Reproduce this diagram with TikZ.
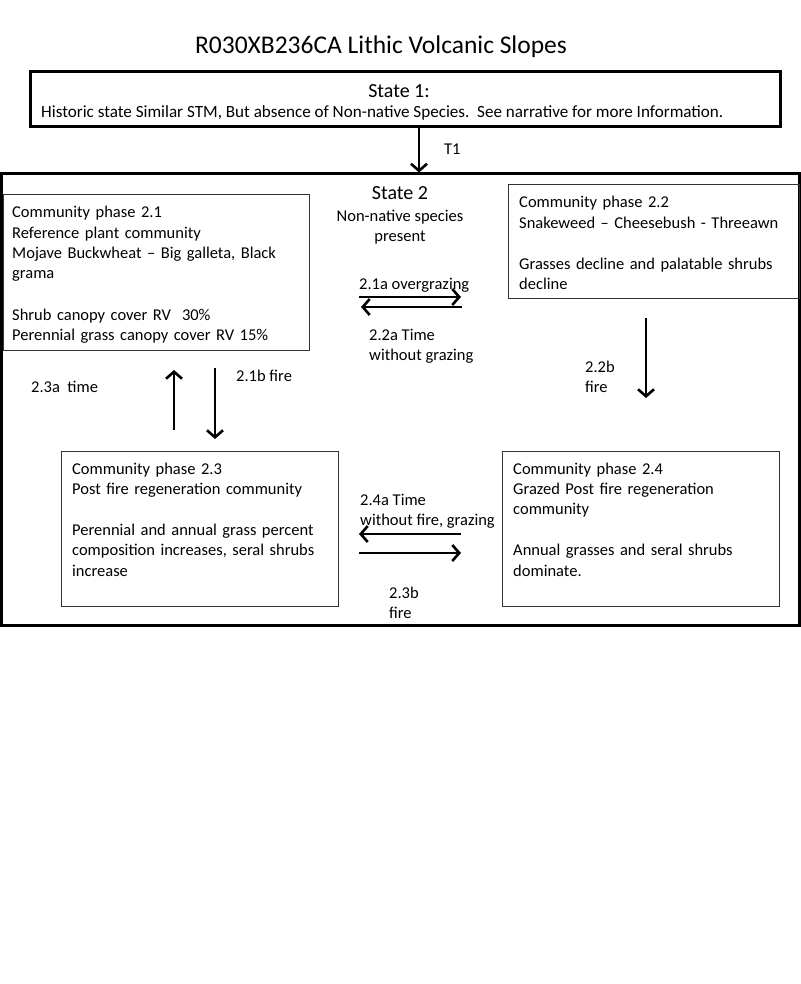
\documentclass[tikz,border=0pt]{standalone}
\usepackage{fontspec}
\setmainfont{Carlito}
\usetikzlibrary{arrows.meta}

\begin{document}
\begin{tikzpicture}[x=1pt, y=-1pt]
	\tikzstyle{statebox} = [rectangle, draw=black, line width=3pt, inner sep=0pt]
	\tikzstyle{phase}    = [rectangle, draw=black!80, line width=1.1pt, inner sep=0pt, anchor=north west]
	\tikzstyle{body}     = [inner sep=0pt, anchor=base west, text width=300pt, execute at begin node=\raggedright,
	                        font=\fontsize{16.5}{20.3}\selectfont]
	\tikzstyle{lbl}      = [inner sep=0pt, anchor=base west, align=left, font=\fontsize{16.5}{20}\selectfont]
	\tikzstyle{arr}      = [line width=1.1pt, -{Straight Barb[length=7pt, width=16pt, line width=2.6pt 0]}]

	\useasboundingbox (0,0) rectangle (800,984);

%	title and the two states
	\node[inner sep=0pt, anchor=base, font=\fontsize{25.5}{30}\selectfont] (title) at (381,54) {R030XB236CA Lithic Volcanic Slopes};

	\node[statebox, minimum width=750pt, minimum height=55pt] (s1) at (405,99.5) {};
	\node[inner sep=0pt, anchor=base, font=\fontsize{20}{24}\selectfont] (s1name) at (399,98) {State 1:};
	\node[inner sep=0pt, anchor=base west, font=\fontsize{17.1}{20}\selectfont] (s1text) at (41,118)
		{Historic state Similar STM, But absence of Non-native Species.\ \ See narrative for more Information.};

	\node[statebox, minimum width=798pt, minimum height=451pt] (s2) at (400,399.5) {};
	\node[inner sep=0pt, anchor=base, font=\fontsize{20}{24}\selectfont] (s2name) at (400,200) {State 2};
	\node[inner sep=0pt, anchor=base, align=center, font=\fontsize{16.5}{20}\selectfont] (s2text) at (400,241)
		{Non-native species\\present};

%	community phases
	\node[phase, minimum width=306pt, minimum height=156pt] (p21) at (3,194) {};
	\node[phase, minimum width=291pt, minimum height=114pt] (p22) at (508,184) {};
	\node[phase, minimum width=277pt, minimum height=155pt] (p23) at (61,451) {};
	\node[phase, minimum width=277pt, minimum height=155pt] (p24) at (502,451) {};

	\node[body] (t21) at ([shift={(9,24)}]p21.north west)
		{Community phase 2.1\\Reference plant community\\Mojave Buckwheat -- Big galleta, Black\\grama\\[21pt]
		 Shrub canopy cover RV\ \ 30\%\\Perennial grass canopy cover RV 15\%};
	\node[body] (t22) at ([shift={(11,24)}]p22.north west)
		{Community phase 2.2\\Snakeweed -- Cheesebush - Threeawn\\[21pt]
		 Grasses decline and palatable shrubs\\decline};
	\node[body] (t23) at ([shift={(11,23)}]p23.north west)
		{Community phase 2.3\\Post fire regeneration community\\[21pt]
		 Perennial and annual grass percent\\composition increases, seral shrubs\\increase};
	\node[body] (t24) at ([shift={(11,23)}]p24.north west)
		{Community phase 2.4\\Grazed Post fire regeneration\\community\\[21pt]
		 Annual grasses and seral shrubs\\dominate.};

%	transition labels
	\foreach \name/\x/\y/\text in {l21a/359/289/{2.1a overgrazing}, l22a/369/360/{2.2a Time\\without grazing},
			l22b/585/392/{2.2b\\fire}, l23a/31/392/{2.3a\ \ time}, l21b/236/381/{2.1b fire},
			l24a/360/525/{2.4a Time\\without fire, grazing}, l23b/389/618/{2.3b\\fire}, lt1/444/155/{T1}}
		\node[lbl] (\name) at (\x,\y) {\text};

%	arrow ends
	\coordinate (t1) at (419,150);
	\foreach \name/\x/\y in {a1/359/297, a2/461/297, b1/462/307, b2/361/307,
			c1/646/318, c2/646/398, d1/174/430, d2/174/370, e1/215/368, e2/215/439,
			f1/461/534, f2/359/534, g1/359/553, g2/461/553}
		\coordinate (\name) at (\x,\y);

	\draw[arr] (s1.south -| t1) -- (s2.north -| t1);
	\foreach \from/\to in {a1/a2, b1/b2, c1/c2, d1/d2, e1/e2, f1/f2, g1/g2}
		\draw[arr] (\from) -- (\to);

\end{tikzpicture}
\end{document}
